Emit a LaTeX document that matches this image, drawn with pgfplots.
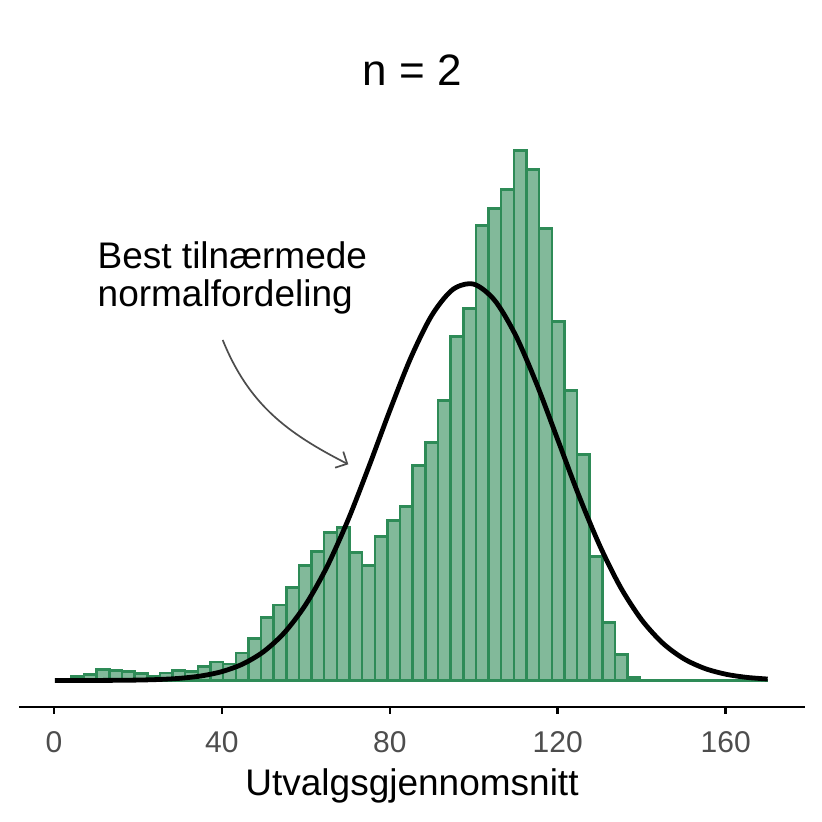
\documentclass[border=0pt]{standalone}
\usepackage{fontspec}
\setmainfont{Liberation Sans}
\usepackage{pgfplots}
\pgfplotsset{compat=1.18}
\usetikzlibrary{arrows.meta}
\definecolor{seagreen}{RGB}{46,139,87}
\definecolor{tickgray}{RGB}{77,77,77}
\begin{document}
\begin{tikzpicture}
\begin{axis}[
    at={(0,0)}, anchor=south west,
    scale only axis,
    width=393pt, height=291.25pt,
    xmin=-8.34, xmax=178.9,
    ymin=-26.5, ymax=556,
    axis x line*=bottom,
    axis y line=none,
    x axis line style={-, line width=1.3pt},
    xtick={0,40,80,120,160},
    ytick=\empty,
    tick align=outside,
    major tick length=3.5pt,
    tick style={line width=1.3pt, black},
    /pgf/number format/assume math mode=true,
    xticklabel style={font=\fontsize{15}{18}\selectfont, text=tickgray, yshift=-5pt},
    xlabel={Utvalgsgjennomsnitt},
    xlabel style={at={(axis description cs:0.5,0)}, anchor=base, yshift=-44pt,
        font=\fontsize{18.5}{22}\selectfont},
    title={n = 2},
    title style={at={(axis description cs:0.5,1)}, anchor=base, yshift=13.25pt,
        font=\fontsize{22}{26}\selectfont},
    clip=false,
]
% histogram, bar edges and heights
\addplot[ybar interval, draw=seagreen, fill=seagreen!60!white, line width=1.25pt]
    coordinates {
    (1.14,1.5) (4.15,4) (7.16,6) (10.18,11) (13.19,10) (16.20,9) (19.21,7)
    (22.22,4) (25.23,7.5) (28.24,10) (31.25,9) (34.26,14) (37.27,18.5)
    (40.29,16.5) (43.30,27.5) (46.31,42) (49.32,63) (52.33,75.5) (55.34,93)
    (58.35,115) (61.36,129) (64.37,148) (67.38,153) (70.39,128) (73.41,115)
    (76.42,144) (79.43,160) (82.44,174) (85.45,215) (88.46,238) (91.47,280)
    (94.48,344) (97.49,372) (100.50,455) (103.52,472) (106.53,491) (109.54,530)
    (112.55,511) (115.56,452) (118.57,359) (121.58,290) (124.59,226)
    (127.60,124) (130.61,58) (133.63,26) (136.64,3) (139.65,0.7) (142.66,0.7)
    (145.67,0.7) (148.68,0.7) (151.69,0.7) (154.70,0.7) (157.71,0.7)
    (160.72,0.7) (163.74,0.7) (166.75,0.7) (169.76,0.7)
    };
% fitted normal curve
\addplot[black, line width=2.4pt, smooth] coordinates {
    (0.2,0.01) (5,0.03) (10,0.07) (15,0.18) (20,0.43) (25,1.0) (30,2.19)
    (35,4.53) (40,8.91) (45,16.55) (50,29.08) (55,48.4) (60,76.2) (65,113.5)
    (70,160.1) (75,213.8) (80,270.0) (85,322.8) (90,365.2) (95,391.0)
    (100,396.3) (105,380.0) (110,344.9) (115,296.3) (120,240.8)
    (125,185.2) (130,134.9) (135,92.9) (140,60.6) (145,37.4) (150,21.8)
    (155,12.07) (160,6.31) (165,3.12) (170,1.46)
    };
\node[anchor=base west, inner sep=0pt, font=\fontsize{18.5}{22}\selectfont]
    at (axis cs:10.31,412.2) {Best tilnærmede};
\node[anchor=base west, inner sep=0pt, font=\fontsize{18.5}{22}\selectfont]
    at (axis cs:10.31,373.8) {normalfordeling};
\draw[tickgray, line width=0.85pt, -{Straight Barb[length=4.5pt, width=9pt]}]
    (axis cs:40.19,340.5) to[out=-68, in=153] (axis cs:70.1,216.2);
\end{axis}
\pgfresetboundingbox
\path[use as bounding box] (-9.5pt,-57.5pt) rectangle (401.5pt,353.5pt);
\end{tikzpicture}
\end{document}
